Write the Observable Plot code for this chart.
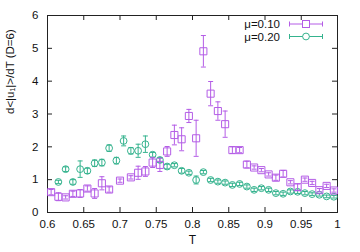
<!DOCTYPE html>
<html>
<head>
<meta charset="utf-8">
<script src="https://cdn.jsdelivr.net/npm/d3@7"></script>
<script src="https://cdn.jsdelivr.net/npm/@observablehq/plot@0.6"></script>
<style>
  html, body { margin: 0; padding: 0; background: #fff; }
  #chart { width: 360px; height: 252px; }
</style>
</head>
<body>
<div id="chart"></div>
<script>
// ---- data ----
const seriesNames = ["μ=0.10", "μ=0.20"];
const tA = [0.605,0.615,0.625,0.635,0.645,0.655,0.665,0.675,0.685,0.70,0.715,0.725,0.735,0.745,0.755,0.765,0.775,0.785,0.795,0.805,0.815,0.825,0.835,0.845,0.855,0.865,0.875,0.885,0.895,0.905,0.915,0.925,0.935,0.945,0.955,0.965,0.975,0.985,0.995];
const vA = [0.62,0.48,0.46,0.57,0.58,0.73,0.58,0.89,0.70,0.97,1.07,1.21,1.25,1.52,1.45,1.86,2.36,2.23,2.94,2.26,4.91,3.62,3.09,2.69,1.90,1.90,1.46,1.37,1.29,1.16,1.06,1.18,0.92,0.77,1.00,0.90,0.68,0.81,0.67];
const eA = [0.08,0.12,0.05,0.08,0.12,0.08,0.15,0.20,0.08,0.05,0.05,0.20,0.15,0.15,0.20,0.15,0.30,0.35,0.20,0.55,0.48,0.37,0.28,0.40,0.10,0.08,0.10,0.05,0.05,0.05,0.08,0.10,0.05,0.10,0.05,0.05,0.05,0.05,0.05];
const tB = [0.615,0.625,0.635,0.645,0.655,0.665,0.675,0.685,0.695,0.705,0.715,0.725,0.735,0.745,0.755,0.765,0.775,0.785,0.795,0.805,0.815,0.825,0.835,0.845,0.855,0.865,0.875,0.885,0.895,0.905,0.915,0.925,0.935,0.945,0.955,0.965,0.975,0.985,0.995];
const vB = [0.93,1.32,0.93,1.32,1.27,1.50,1.52,1.96,1.58,2.18,1.88,1.88,2.08,1.76,1.60,1.40,1.44,1.27,1.21,0.99,1.23,0.99,0.94,0.91,0.84,0.87,0.79,0.69,0.74,0.69,0.59,0.57,0.64,0.63,0.59,0.56,0.54,0.49,0.48];
const eB = [0.05,0.07,0.07,0.25,0.08,0.10,0.10,0.10,0.10,0.15,0.10,0.20,0.25,0.07,0.07,0.07,0.05,0.07,0.05,0.12,0.05,0.05,0.05,0.05,0.05,0.05,0.05,0.05,0.05,0.05,0.05,0.05,0.05,0.05,0.05,0.04,0.04,0.04,0.04];
const xTicks = [0.6,0.65,0.7,0.75,0.8,0.85,0.9,0.95,1];
const xTickLabels = ["0.6","0.65","0.7","0.75","0.8","0.85","0.9","0.95","1"];
const yTicks = [0,1,2,3,4,5,6];
const yTickLabels = ["0","1","2","3","4","5","6"];
const xLabel = "T";
const yLabel = "d<|u₁|>/dT (D=6)";

// ---- style ----
const colA = "#b45de6";
const colB = "#35b38e";
const W = 360, H = 252;
const mL = 47, mR = 23, mT = 15, mB = 40;
const plotW = W - mL - mR, plotH = H - mT - mB;
const tick = 5;
const font = "'Liberation Sans', Arial, sans-serif";

const rowsA = tA.map((t, i) => ({t, v: vA[i], e: eA[i]}));
const rowsB = tB.map((t, i) => ({t, v: vB[i], e: eB[i]}));

const capSym = { draw(ctx) { ctx.moveTo(-2.5, 0); ctx.lineTo(2.5, 0); } };

function errMarks(rows, col, symbol, r) {
  return [
    Plot.ruleX(rows, {x: "t", y1: d => d.v - d.e, y2: d => d.v + d.e, stroke: col, strokeWidth: 1}),
    Plot.dot(rows, {x: "t", y: d => d.v - d.e, symbol: capSym, r: 2, stroke: col, strokeWidth: 1}),
    Plot.dot(rows, {x: "t", y: d => d.v + d.e, symbol: capSym, r: 2, stroke: col, strokeWidth: 1}),
    Plot.dot(rows, {x: "t", y: "v", symbol, r, stroke: col, fill: "none", strokeWidth: 1})
  ];
}

const svg = Plot.plot({
  width: W, height: H,
  marginLeft: mL, marginRight: mR, marginTop: mT, marginBottom: mB,
  style: {fontFamily: font, fontSize: "11.5px", background: "#fff", color: "#111"},
  x: {domain: [0.6, 1]},
  y: {domain: [0, 6]},
  marks: [
    Plot.frame({stroke: "#222", strokeWidth: 1}),
    Plot.ruleX(xTicks, {insetTop: plotH - tick, stroke: "#222"}),
    Plot.ruleX(xTicks, {insetBottom: plotH - tick, stroke: "#222"}),
    Plot.ruleY(yTicks, {insetRight: plotW - tick, stroke: "#222"}),
    Plot.ruleY(yTicks, {insetLeft: plotW - tick, stroke: "#222"}),
    Plot.axisX(xTicks, {tickSize: 0, tickPadding: 7, tickFormat: (d, i) => xTickLabels[i], label: null}),
    Plot.axisY(yTicks, {tickSize: 0, tickPadding: 9, tickFormat: (d, i) => yTickLabels[i], label: null}),
    Plot.text([xLabel], {frameAnchor: "bottom", dy: 31, text: d => d, fontSize: 12}),
    Plot.text([yLabel], {frameAnchor: "left", dx: -37, rotate: -90, text: d => d, fontSize: 11.5}),
    ...errMarks(rowsB, colB, "circle", 3.4),
    ...errMarks(rowsA, colA, "square", 4)
  ]
});

// legend inside the top-right of the frame
const g = d3.select(svg).append("g").attr("font-family", font).attr("font-size", 11.5);
[[colA, "square"], [colB, "circle"]].forEach(([col, sym], i) => {
  const cy = 24 + i * 12.5;
  g.append("text").attr("x", 280).attr("y", cy).attr("dy", "0.35em")
    .attr("text-anchor", "end").attr("fill", "#111").text(seriesNames[i]);
  const x0 = 289.5, x1 = 322.5, xm = 306;
  g.append("line").attr("x1", x0).attr("x2", x1).attr("y1", cy).attr("y2", cy).attr("stroke", col);
  g.append("line").attr("x1", x0).attr("x2", x0).attr("y1", cy - 2.5).attr("y2", cy + 2.5).attr("stroke", col);
  g.append("line").attr("x1", x1).attr("x2", x1).attr("y1", cy - 2.5).attr("y2", cy + 2.5).attr("stroke", col);
  if (sym === "square") {
    g.append("rect").attr("x", xm - 3.5).attr("y", cy - 3.5).attr("width", 7).attr("height", 7)
      .attr("fill", "#fff").attr("stroke", col);
  } else {
    g.append("circle").attr("cx", xm).attr("cy", cy).attr("r", 3.4).attr("fill", "#fff").attr("stroke", col);
  }
});

document.getElementById("chart").appendChild(svg);
</script>
</body>
</html>
